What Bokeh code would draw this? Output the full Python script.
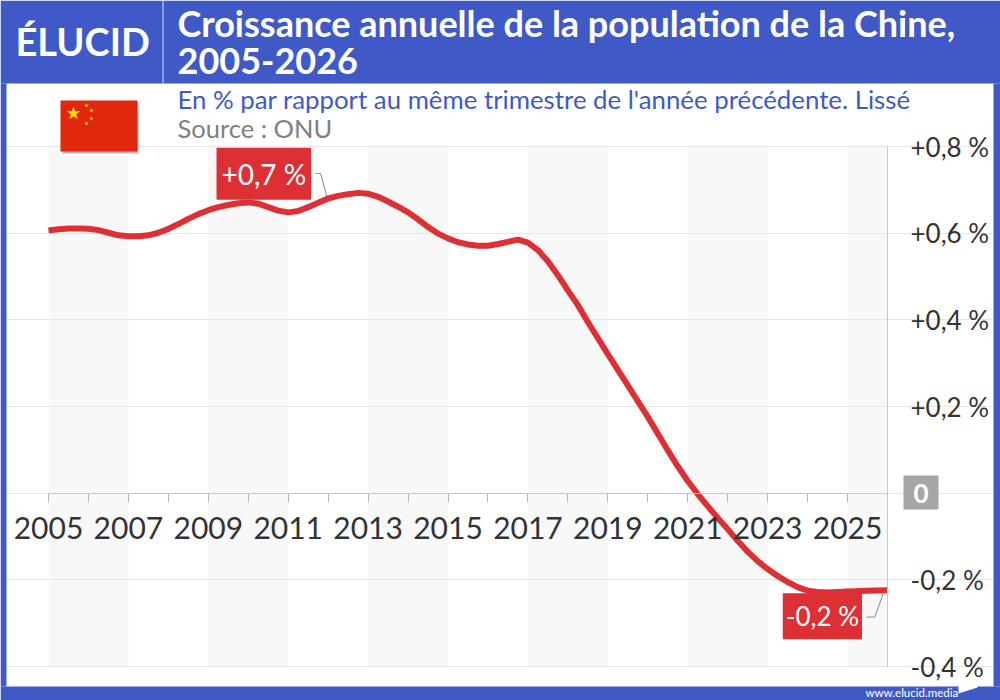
import math
from bokeh.embed import file_html
from bokeh.models import (BoxAnnotation, FixedTicker, Label, LinearAxis,
                          PolyAnnotation, Range1d)
from bokeh.plotting import figure
from bokeh.resources import INLINE

# ---------- data ----------
years = [2005, 2005.25, 2005.5, 2005.75, 2006, 2006.25, 2006.5, 2006.75,
         2007, 2007.25, 2007.5, 2007.75, 2008, 2008.25, 2008.5, 2008.75,
         2009, 2009.25, 2009.5, 2009.75, 2010, 2010.25, 2010.5, 2010.75,
         2011, 2011.25, 2011.5, 2011.75, 2012, 2012.25, 2012.5, 2012.75,
         2013, 2013.25, 2013.5, 2013.75, 2014, 2014.25, 2014.5, 2014.75,
         2015, 2015.25, 2015.5, 2015.75, 2016, 2016.25, 2016.5, 2016.75,
         2017, 2017.25, 2017.5, 2017.75, 2018, 2018.25, 2018.5, 2019,
         2019.5, 2020, 2020.5, 2020.75, 2021, 2021.25, 2021.5, 2021.75, 2022,
         2022.25, 2022.5, 2022.75, 2023, 2023.25, 2023.5, 2023.75, 2024,
         2024.25, 2024.5, 2025, 2025.5, 2026]
growth = [.606, .609, .611, .611, .610, .607, .601, .595,
          .593, .593, .595, .601, .610, .621, .633, .644,
          .653, .660, .665, .669, .671, .668, .660, .652,
          .648, .651, .660, .670, .680, .686, .690, .693,
          .691, .684, .673, .661, .648, .632, .614, .599,
          .588, .579, .574, .571, .571, .575, .580, .585,
          .578, .561, .535, .503, .468, .434, .395, .321,
          .249, .176, .099, .062, .028, -.002, -.030, -.057, -.083,
          -.110, -.135, -.157, -.175, -.191, -.205, -.217, -.225,
          -.228, -.229, -.227, -.225, -.224]
x_ticks = list(range(2005, 2027))
x_labels = {y: str(y) if y % 2 == 1 else "" for y in x_ticks}
y_ticks = [-0.4, -0.2, 0, 0.2, 0.4, 0.6, 0.8]
y_labels = {-0.4: "-0,4 %", -0.2: "-0,2 %", 0: "", 0.2: "+0,2 %",
            0.4: "+0,4 %", 0.6: "+0,6 %", 0.8: "+0,8 %"}
band_starts = [2005, 2009, 2013, 2017, 2021, 2025]
band_ends = [2007, 2011, 2015, 2019, 2023, 2026]
peak_x, peak_y, peak_text = 2010.39, 0.737, "+0,7 %"
last_x, last_y, last_text = 2024.37, -0.284, "-0,2 %"
peak_link_x, peak_link_y = [2011.68, 2011.81, 2011.98], [0.738, 0.738, 0.68]
last_link_x, last_link_y = [2025.48, 2025.68, 2025.90], [-0.286, -0.286, -0.23]

TITLE_1 = "Croissance annuelle de la population de la Chine,"
TITLE_2 = "2005-2026"
SUBTITLE = "En % par rapport au même trimestre de l'année précédente. Lissé"
SOURCE = "Source : ONU"
BRAND = "ÉLUCID"
SITE = "www.elucid.media"

# ---------- style ----------
FONT = "Lato"
BLUE = "#3f5ac6"
RED = "#dc3035"
W, H = 1000, 700
PLOT_L, PLOT_R, PLOT_T, PLOT_B = 48, 887, 146, 666
X0, X1, Y0, Y1 = 2005, 2026, -0.4, 0.8
x_per_px = (X1 - X0) / (PLOT_R - PLOT_L)
y_per_px = (Y1 - Y0) / (PLOT_B - PLOT_T)


def box(x0, y0, x1, y1, color, alpha=1.0):
    return BoxAnnotation(left=x0, right=x1, top=y0, bottom=y1,
                         left_units="canvas", right_units="canvas",
                         top_units="canvas", bottom_units="canvas",
                         fill_color=color, fill_alpha=alpha, line_alpha=0,
                         level="overlay")


def text(x, y, s, size, color, style="normal", align="left"):
    return Label(x=x, y=y, x_units="canvas", y_units="canvas", text=s,
                 text_font=FONT, text_font_size=f"{size}px", text_color=color,
                 text_font_style=style, text_align=align, text_baseline="middle",
                 level="overlay")


def poly(xs, ys, color):
    return PolyAnnotation(xs=xs, ys=ys, xs_units="canvas", ys_units="canvas",
                          fill_color=color, fill_alpha=1, line_alpha=0, level="overlay")


def star(cx, cy, r):
    xs, ys = [], []
    for i in range(10):
        rr = r if i % 2 == 0 else r * 0.4
        a = -math.pi / 2 + i * math.pi / 5
        xs.append(cx + rr * math.cos(a))
        ys.append(cy + rr * math.sin(a))
    return poly(xs, ys, "#ffde00")


p = figure(width=W, height=H, output_backend="svg", toolbar_location=None,
           x_range=Range1d(X0 - PLOT_L * x_per_px, X1 + (W - PLOT_R) * x_per_px),
           y_range=Range1d(Y0 - (H - PLOT_B) * y_per_px, Y1 + PLOT_T * y_per_px),
           x_axis_location=None, y_axis_location=None,
           min_border=0, outline_line_color=None,
           background_fill_color="white", border_fill_color="white")

p.quad(left=band_starts, right=band_ends, bottom=Y0, top=Y1,
       fill_color="#f8f8f9", line_color=None, level="underlay")

p.xgrid.visible = False
p.ygrid.ticker = FixedTicker(ticks=y_ticks)
p.ygrid.grid_line_color = "#e6e6e6"
p.ygrid.level = "underlay"
p.ygrid.bounds = (X0, X1)

ya = LinearAxis(fixed_location=X1, ticker=FixedTicker(ticks=y_ticks),
                major_label_overrides=y_labels, bounds=(Y0, Y1))
ya.major_tick_line_color = None
ya.minor_tick_line_color = None
ya.axis_line_color = "#c8c8c8"
ya.major_label_text_font = FONT
ya.major_label_text_font_size = "26px"
ya.major_label_text_color = "#333333"
ya.major_label_standoff = 17
p.add_layout(ya, "right")

xa = LinearAxis(fixed_location=0, ticker=FixedTicker(ticks=x_ticks),
                major_label_overrides=x_labels, bounds=(X0, X1))
xa.major_tick_in = 0
xa.major_tick_out = 9
xa.major_tick_line_color = "#b8b8b8"
xa.minor_tick_line_color = None
xa.axis_line_color = "#c8c8c8"
xa.major_label_text_font = FONT
xa.major_label_text_font_size = "30px"
xa.major_label_text_color = "#333333"
xa.major_label_standoff = 15
p.add_layout(xa, "below")

p.line(peak_link_x, peak_link_y, line_color="#8a8a8a", line_width=1)
p.line(last_link_x, last_link_y, line_color="#8a8a8a", line_width=1)
p.line(years, growth, line_color=RED, line_width=6, line_join="round", line_cap="butt")

# value call-outs
for lx, ly, s, size, pad in [(peak_x, peak_y, peak_text, 28, (5, 9)),
                             (last_x, last_y, last_text, 26, (3, 7))]:
    p.add_layout(Label(x=lx, y=ly, text=s, text_font=FONT, text_font_size=f"{size}px",
                       text_color="white", text_align="center", text_baseline="middle",
                       background_fill_color=RED, padding=pad, level="overlay"))

# zero tag
p.add_layout(box(903, 475, 938, 509, "#a6a6a6"))
p.add_layout(text(920.5, 493, "0", 26, "white", "bold", "center"))

# frame, header, footer
p.add_layout(box(0, 0, W, 83, BLUE))
p.add_layout(box(0, 686, W, H, BLUE))
p.add_layout(box(0, 83, 6, 686, BLUE))
p.add_layout(box(993, 83, W, 686, BLUE))
p.add_layout(box(162, 0, 163, 83, "#ffffff", 0.8))
p.add_layout(text(15, 40, BRAND, 38, "white", "bold"))
p.add_layout(text(177, 22, TITLE_1, 36, "white", "bold"))
p.add_layout(text(177, 60, TITLE_2, 36, "white", "bold"))
p.add_layout(text(177, 98.5, SUBTITLE, 25.8, BLUE))
p.add_layout(text(177, 127.5, SOURCE, 25.5, "#808080"))
p.add_layout(text(865, 691.5, SITE, 11.5, "white"))
p.add_layout(poly([958, 977, 977, 958], [685, 679, 687, 693], "white"))

# flag
p.add_layout(box(62, 102, 138, 153, "#8a8a8a", 0.6))
p.add_layout(box(60, 100, 137, 151, "#e0280f"))
p.add_layout(star(73, 113, 7))
for cx, cy in [(86, 105), (91, 110), (91, 118), (86, 123)]:
    p.add_layout(star(cx, cy, 2.2))

open("out.html", "w").write(file_html(p, INLINE))
